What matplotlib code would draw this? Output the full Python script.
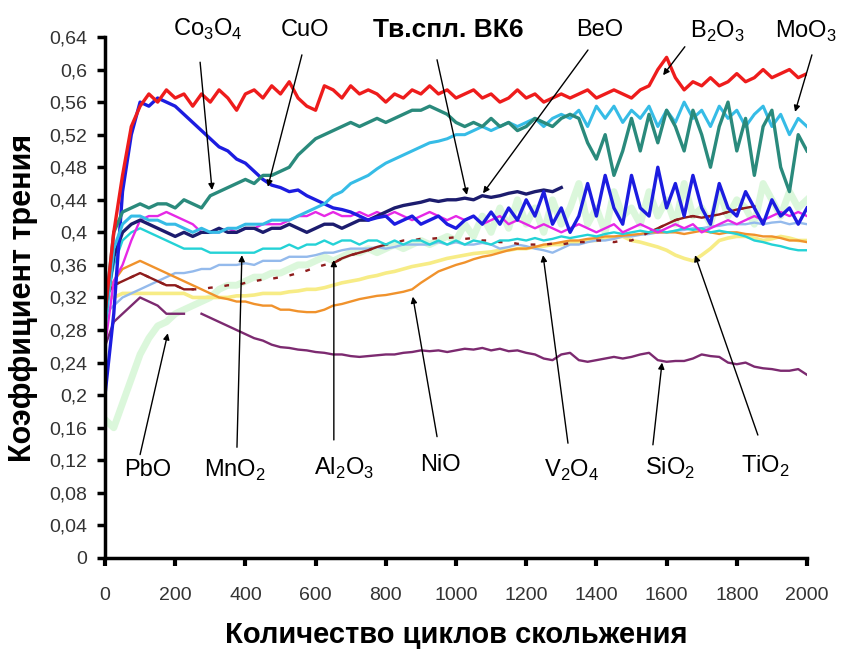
import numpy as np
import matplotlib
matplotlib.use("Agg")
import matplotlib.pyplot as plt

plt.rcParams['font.family'] = ['Liberation Sans', 'DejaVu Sans']

# число циклов скольжения (шаг 25)
cycles = list(range(0, 2001, 25))
nan = float("nan")

b2o3 = [0.30, 0.40, 0.47, 0.53, 0.555, 0.57, 0.56, 0.575, 0.565, 0.57,
        0.555, 0.57, 0.56, 0.575, 0.565, 0.55, 0.57, 0.575, 0.565, 0.58,
        0.57, 0.585, 0.565, 0.555, 0.55, 0.58, 0.575, 0.565, 0.58, 0.57,
        0.575, 0.57, 0.56, 0.57, 0.565, 0.575, 0.57, 0.58, 0.57, 0.575,
        0.565, 0.57, 0.575, 0.565, 0.57, 0.56, 0.565, 0.575, 0.565, 0.57,
        0.56, 0.565, 0.57, 0.565, 0.57, 0.575, 0.565, 0.57, 0.575, 0.57,
        0.565, 0.575, 0.58, 0.60, 0.615, 0.59, 0.575, 0.585, 0.58, 0.59,
        0.58, 0.585, 0.595, 0.585, 0.59, 0.60, 0.59, 0.595, 0.60, 0.59,
        0.595]

cuo = [0.20, 0.30, 0.45, 0.52, 0.56, 0.555, 0.565, 0.56, 0.555, 0.545,
       0.535, 0.525, 0.515, 0.505, 0.50, 0.49, 0.485, 0.475, 0.465, 0.458,
       0.455, 0.45, 0.452, 0.445, 0.44, 0.435, 0.43, 0.428, 0.425, 0.42,
       0.415, 0.418, 0.42, 0.41, 0.415, 0.42, 0.41, 0.415, 0.42, 0.41,
       0.405, 0.415, 0.42, 0.41, 0.425, 0.41, 0.43, 0.415, 0.44, 0.42,
       0.45, 0.41, 0.43, 0.40, 0.42, 0.46, 0.42, 0.47, 0.43, 0.41,
       0.47, 0.43, 0.42, 0.48, 0.43, 0.46, 0.42, 0.47, 0.43, 0.41,
       0.46, 0.43, 0.42, 0.45, 0.43, 0.41, 0.44, 0.42, 0.43, 0.41,
       0.43]

co3o4 = [0.30, 0.40, 0.425, 0.43, 0.435, 0.43, 0.435, 0.435, 0.43, 0.44,
         0.435, 0.43, 0.445, 0.45, 0.455, 0.46, 0.465, 0.46, 0.47, 0.47,
         0.475, 0.48, 0.495, 0.505, 0.515, 0.52, 0.525, 0.53, 0.535, 0.53,
         0.535, 0.54, 0.535, 0.54, 0.545, 0.55, 0.55, 0.555, 0.55, 0.545,
         0.535, 0.53, 0.535, 0.53, 0.54, 0.53, 0.535, 0.525, 0.53, 0.54,
         0.535, 0.53, 0.54, 0.545, 0.54, 0.51, 0.49, 0.52, 0.47, 0.50,
         0.54, 0.50, 0.545, 0.51, 0.55, 0.53, 0.50, 0.55, 0.52, 0.48,
         0.53, 0.56, 0.50, 0.54, 0.47, 0.53, 0.55, 0.48, 0.45, 0.52,
         0.50]

moo3 = [0.28, 0.38, 0.41, 0.42, 0.42, 0.415, 0.415, 0.41, 0.41, 0.405,
        0.40, 0.405, 0.40, 0.40, 0.405, 0.405, 0.41, 0.41, 0.41, 0.415,
        0.415, 0.415, 0.42, 0.425, 0.43, 0.435, 0.445, 0.45, 0.46, 0.465,
        0.47, 0.478, 0.485, 0.49, 0.495, 0.50, 0.505, 0.51, 0.512, 0.515,
        0.52, 0.52, 0.525, 0.53, 0.525, 0.53, 0.535, 0.53, 0.535, 0.54,
        0.53, 0.54, 0.545, 0.54, 0.55, 0.53, 0.555, 0.54, 0.555, 0.535,
        0.55, 0.54, 0.555, 0.53, 0.55, 0.535, 0.56, 0.54, 0.55, 0.53,
        0.555, 0.54, 0.55, 0.53, 0.545, 0.555, 0.53, 0.545, 0.52, 0.54,
        0.53]

magenta = [0.26, 0.34, 0.36, 0.39, 0.415, 0.42, 0.42, 0.425, 0.42, 0.415,
           0.41, 0.40, 0.40, 0.40, 0.405, 0.40, 0.405, 0.405, 0.41, 0.41,
           0.41, 0.415, 0.42, 0.42, 0.425, 0.42, 0.425, 0.42, 0.42, 0.425,
           0.42, 0.425, 0.42, 0.425, 0.42, 0.415, 0.42, 0.425, 0.42, 0.415,
           0.42, 0.415, 0.42, 0.41, 0.415, 0.42, 0.41, 0.415, 0.41, 0.405,
           0.41, 0.405, 0.40, 0.405, 0.41, 0.405, 0.40, 0.405, 0.41, 0.40,
           0.405, 0.41, 0.405, 0.40, 0.405, 0.41, 0.405, 0.41, 0.40, 0.405,
           0.41, 0.415, 0.41, 0.415, 0.42, 0.415, 0.42, 0.425, 0.42, 0.425,
           0.42]

vk6 = [0.30, 0.37, 0.40, 0.41, 0.415, 0.41, 0.405, 0.40, 0.395, 0.40,
       0.395, 0.40, 0.40, 0.405, 0.40, 0.40, 0.405, 0.405, 0.40, 0.405,
       0.405, 0.41, 0.405, 0.40, 0.405, 0.41, 0.41, 0.405, 0.41, 0.415,
       0.415, 0.42, 0.425, 0.43, 0.433, 0.435, 0.437, 0.44, 0.438, 0.44,
       0.44, 0.442, 0.44, 0.445, 0.443, 0.445, 0.448, 0.45, 0.447, 0.45,
       0.452, 0.45, 0.455, nan, nan, nan, nan, nan, nan, nan,
       nan, nan, nan, nan, nan, nan, nan, nan, nan, nan,
       nan, nan, nan, nan, nan, nan, nan, nan, nan, nan,
       nan]

mno2 = [0.30, 0.36, 0.39, 0.40, 0.405, 0.40, 0.395, 0.39, 0.385, 0.38,
        0.38, 0.38, 0.375, 0.375, 0.375, 0.375, 0.375, 0.375, 0.38, 0.38,
        0.38, 0.385, 0.38, 0.385, 0.385, 0.39, 0.385, 0.39, 0.39, 0.385,
        0.39, 0.39, 0.385, 0.39, 0.385, 0.39, 0.39, 0.385, 0.39, 0.385,
        0.39, 0.385, 0.39, 0.388, 0.385, 0.39, 0.39, 0.392, 0.39, 0.393,
        0.39, 0.392, 0.395, 0.393, 0.395, 0.397, 0.395, 0.398, 0.40, 0.398,
        0.40, 0.402, 0.40, 0.403, 0.40, 0.402, 0.405, 0.403, 0.405, 0.40,
        0.402, 0.40, 0.398, 0.395, 0.39, 0.388, 0.385, 0.383, 0.38, 0.378,
        0.378]

v2o4 = [0.30, 0.31, 0.32, 0.325, 0.33, 0.335, 0.34, 0.345, 0.35, 0.35,
        0.352, 0.355, 0.355, 0.36, 0.36, 0.36, 0.362, 0.36, 0.365, 0.365,
        0.365, 0.37, 0.37, 0.37, 0.372, 0.375, 0.375, 0.378, 0.38, 0.38,
        0.38, 0.382, 0.38, 0.382, 0.385, 0.385, 0.385, 0.385, 0.388, 0.385,
        0.388, 0.385, 0.385, 0.387, 0.385, 0.38, 0.382, 0.385, 0.383, 0.38,
        0.378, 0.375, 0.38, 0.385, 0.385, 0.388, 0.39, 0.39, 0.392, 0.395,
        0.395, 0.397, 0.398, 0.40, 0.40, 0.402, 0.403, 0.405, 0.405, 0.407,
        0.408, 0.41, 0.41, 0.41, 0.412, 0.41, 0.412, 0.413, 0.41, 0.412,
        0.41]

nio = [0.32, 0.34, 0.355, 0.36, 0.365, 0.36, 0.355, 0.35, 0.345, 0.34,
       0.335, 0.33, 0.325, 0.32, 0.318, 0.315, 0.315, 0.312, 0.31, 0.31,
       0.305, 0.305, 0.303, 0.302, 0.302, 0.305, 0.31, 0.312, 0.315, 0.318,
       0.32, 0.322, 0.323, 0.325, 0.327, 0.33, 0.338, 0.345, 0.352, 0.356,
       0.36, 0.363, 0.367, 0.37, 0.372, 0.375, 0.378, 0.38, 0.38, 0.382,
       0.385, 0.386, 0.388, 0.39, 0.39, 0.392, 0.393, 0.395, 0.395, 0.396,
       0.397, 0.398, 0.40, 0.40, 0.40, 0.40, 0.398, 0.40, 0.402, 0.40,
       0.398, 0.40, 0.40, 0.398, 0.397, 0.395, 0.395, 0.393, 0.39, 0.39,
       0.388]

al2o3 = [0.32, 0.335, 0.34, 0.345, 0.35, 0.345, 0.34, 0.335, 0.335, 0.33,
         0.33, 0.33, 0.332, 0.333, 0.335, 0.335, 0.338, 0.34, 0.342, 0.343,
         0.345, 0.347, 0.35, 0.353, 0.357, 0.36, 0.362, 0.368, 0.372, 0.375,
         0.378, 0.382, 0.385, 0.387, 0.39, 0.39, 0.392, 0.392, 0.393, 0.393,
         0.394, 0.392, 0.393, 0.39, 0.39, 0.388, 0.388, 0.386, 0.385, 0.385,
         0.385, 0.386, 0.385, 0.387, 0.388, 0.388, 0.39, 0.39, 0.388, 0.39,
         0.39, 0.395, 0.40, 0.405, 0.41, 0.415, 0.418, 0.42, 0.418, 0.42,
         0.422, 0.425, 0.428, 0.43, 0.432, nan, nan, nan, nan, nan,
         nan]

pbo = [0.17, 0.16, 0.19, 0.22, 0.25, 0.27, 0.285, 0.29, 0.30, 0.305,
       0.31, 0.315, 0.32, 0.33, 0.335, 0.335, 0.34, 0.345, 0.345, 0.35,
       0.35, 0.355, 0.36, 0.36, 0.365, 0.37, 0.365, 0.37, 0.375, 0.375,
       0.38, 0.375, 0.38, 0.385, 0.38, 0.385, 0.39, 0.385, 0.39, 0.395,
       0.39, 0.41, 0.395, 0.42, 0.40, 0.43, 0.405, 0.44, 0.41, 0.43,
       0.40, 0.44, 0.41, 0.43, 0.46, 0.41, 0.43, 0.40, 0.45, 0.42,
       0.43, 0.41, 0.45, 0.42, 0.44, 0.41, 0.46, 0.42, 0.43, 0.41,
       0.45, 0.42, 0.44, 0.43, 0.41, 0.46, 0.44, 0.42, 0.45, 0.43,
       0.44]

tio2 = [0.32, 0.32, 0.325, 0.325, 0.325, 0.325, 0.325, 0.325, 0.325, 0.325,
        0.32, 0.32, 0.32, 0.32, 0.32, 0.322, 0.322, 0.323, 0.325, 0.325,
        0.325, 0.327, 0.328, 0.33, 0.33, 0.332, 0.335, 0.338, 0.34, 0.342,
        0.345, 0.347, 0.35, 0.352, 0.355, 0.358, 0.36, 0.362, 0.365, 0.368,
        0.37, 0.372, 0.374, 0.375, 0.376, 0.378, 0.378, 0.38, 0.38, 0.382,
        0.383, 0.385, 0.385, 0.387, 0.388, 0.39, 0.39, 0.392, 0.393, 0.395,
        0.39, 0.388, 0.385, 0.382, 0.378, 0.372, 0.368, 0.365, 0.372, 0.38,
        0.39, 0.393, 0.395, 0.395, 0.393, 0.39, 0.392, 0.395, 0.393, 0.39,
        0.39]

sio2 = [0.26, 0.29, 0.30, 0.31, 0.32, 0.315, 0.31, 0.30, 0.30, 0.30,
        nan, 0.30, 0.295, 0.29, 0.285, 0.28, 0.275, 0.27, 0.267, 0.262,
        0.259, 0.258, 0.256, 0.255, 0.253, 0.252, 0.25, 0.25, 0.248, 0.247,
        0.248, 0.249, 0.25, 0.25, 0.252, 0.253, 0.255, 0.254, 0.255, 0.253,
        0.255, 0.257, 0.256, 0.258, 0.255, 0.257, 0.254, 0.255, 0.252, 0.25,
        0.245, 0.243, 0.25, 0.252, 0.243, 0.241, 0.243, 0.245, 0.247, 0.245,
        0.247, 0.25, 0.252, 0.243, 0.241, 0.242, 0.242, 0.245, 0.25, 0.248,
        0.247, 0.24, 0.238, 0.24, 0.235, 0.233, 0.232, 0.23, 0.23, 0.232,
        0.225]

fig = plt.figure(figsize=(8.46, 6.51), dpi=100)
ax = fig.add_axes([0.1241, 0.1429, 0.8298, 0.8003])

x = np.array(cycles)
lw = 1.7
ax.plot(x, pbo, color="#c4f2c4", lw=5, alpha=0.6)
ax.plot(x, tio2, color="#f7ec86", lw=2.6)
ax.plot(x, v2o4, color="#94baec", lw=lw)
ax.plot(x, nio, color="#f0922c", lw=lw)
# Al2O3: участки записи с пропусками рисуем пунктиром
al = np.array(al2o3)
solid = (x <= 250) | ((x >= 650) & (x <= 800)) | (x >= 1550)
ax.plot(x, al, color="#8e1c1c", lw=lw, ls=(0, (2, 5)))
ax.plot(x, np.where(solid, al, np.nan), color="#8e1c1c", lw=lw)
ax.plot(x, mno2, color="#24d2d6", lw=lw)
ax.plot(x, sio2, color="#7c2a70", lw=lw)
ax.plot(x, magenta, color="#e628e6", lw=lw)
ax.plot(x, vk6, color="#1c1c6e", lw=2.4)
ax.plot(x, cuo, color="#1c1ce0", lw=2.4)
ax.plot(x, moo3, color="#36bce6", lw=2.2)
ax.plot(x, co3o4, color="#2a8a7c", lw=2.4)
ax.plot(x, b2o3, color="#ee1c1c", lw=2.4)

ax.set_xlim(0, 2000)
ax.set_ylim(0, 0.64)
ax.set_xticks(range(0, 2001, 200))
yt = np.arange(0, 0.641, 0.04)
ax.set_yticks(yt)
ax.set_yticklabels([("%g" % round(v, 2)).replace(".", ",") for v in yt])
for s in ("top", "right"):
    ax.spines[s].set_visible(False)
for s in ("left", "bottom"):
    ax.spines[s].set_linewidth(2.5)
ax.tick_params(axis="y", direction="out", length=6, width=2.5, pad=7,
               labelsize=14, labelcolor="#333333")
ax.tick_params(axis="x", direction="out", length=6, width=3, pad=15,
               labelsize=14, labelcolor="#333333")

ax.set_xlabel("Количество циклов скольжения", fontsize=21, fontweight="bold",
              labelpad=12)
ax.set_ylabel("Коэффициент трения", fontsize=22, fontweight="bold", labelpad=8)

lab_font = dict(family=["Liberation Sans", "DejaVu Sans"],
                ha="center", va="center", annotation_clip=False)
arrow = dict(arrowstyle="-|>", color="black", lw=1.0, mutation_scale=9,
             shrinkA=0, shrinkB=0)

labels = [
    ("Co$_\\mathregular{3}$O$_\\mathregular{4}$", (293, 0.649), (271, 0.609), (305, 0.452)),
    ("CuO", (570, 0.649), (561, 0.618), (464, 0.456)),
    ("Тв.спл. ВК6", (977, 0.649), (946, 0.612), (1031, 0.446)),
    ("BeO", (1410, 0.649), (1376, 0.624), (1077, 0.448)),
    ("B$_\\mathregular{2}$O$_\\mathregular{3}$", (1746, 0.647), (1652, 0.628), (1590, 0.593)),
    ("MoO$_\\mathregular{3}$", (1997, 0.647), (2014, 0.618), (1966, 0.548)),
    ("PbO", (123, 0.108), (100, 0.127), (179, 0.276)),
    ("MnO$_\\mathregular{2}$", (370, 0.108), (376, 0.136), (390, 0.372)),
    ("Al$_\\mathregular{2}$O$_\\mathregular{3}$", (681, 0.110), (652, 0.145), (652, 0.366)),
    ("NiO", (957, 0.114), (946, 0.149), (877, 0.321)),
    ("V$_\\mathregular{2}$O$_\\mathregular{4}$", (1330, 0.108), (1319, 0.141), (1248, 0.372)),
    ("SiO$_\\mathregular{2}$", (1610, 0.110), (1561, 0.139), (1587, 0.240)),
    ("TiO$_\\mathregular{2}$", (1880, 0.112), (1860, 0.151), (1681, 0.372)),
]
for text, pos, tail, tip in labels:
    if text.startswith("Тв"):
        ax.annotate(text, xy=pos, fontsize=19, fontweight="bold", **lab_font)
    else:
        ax.annotate(text, xy=pos, fontsize=17, **lab_font)
    ax.annotate("", xy=tip, xytext=tail, arrowprops=arrow, annotation_clip=False)

fig.savefig("out.png", dpi=100)
